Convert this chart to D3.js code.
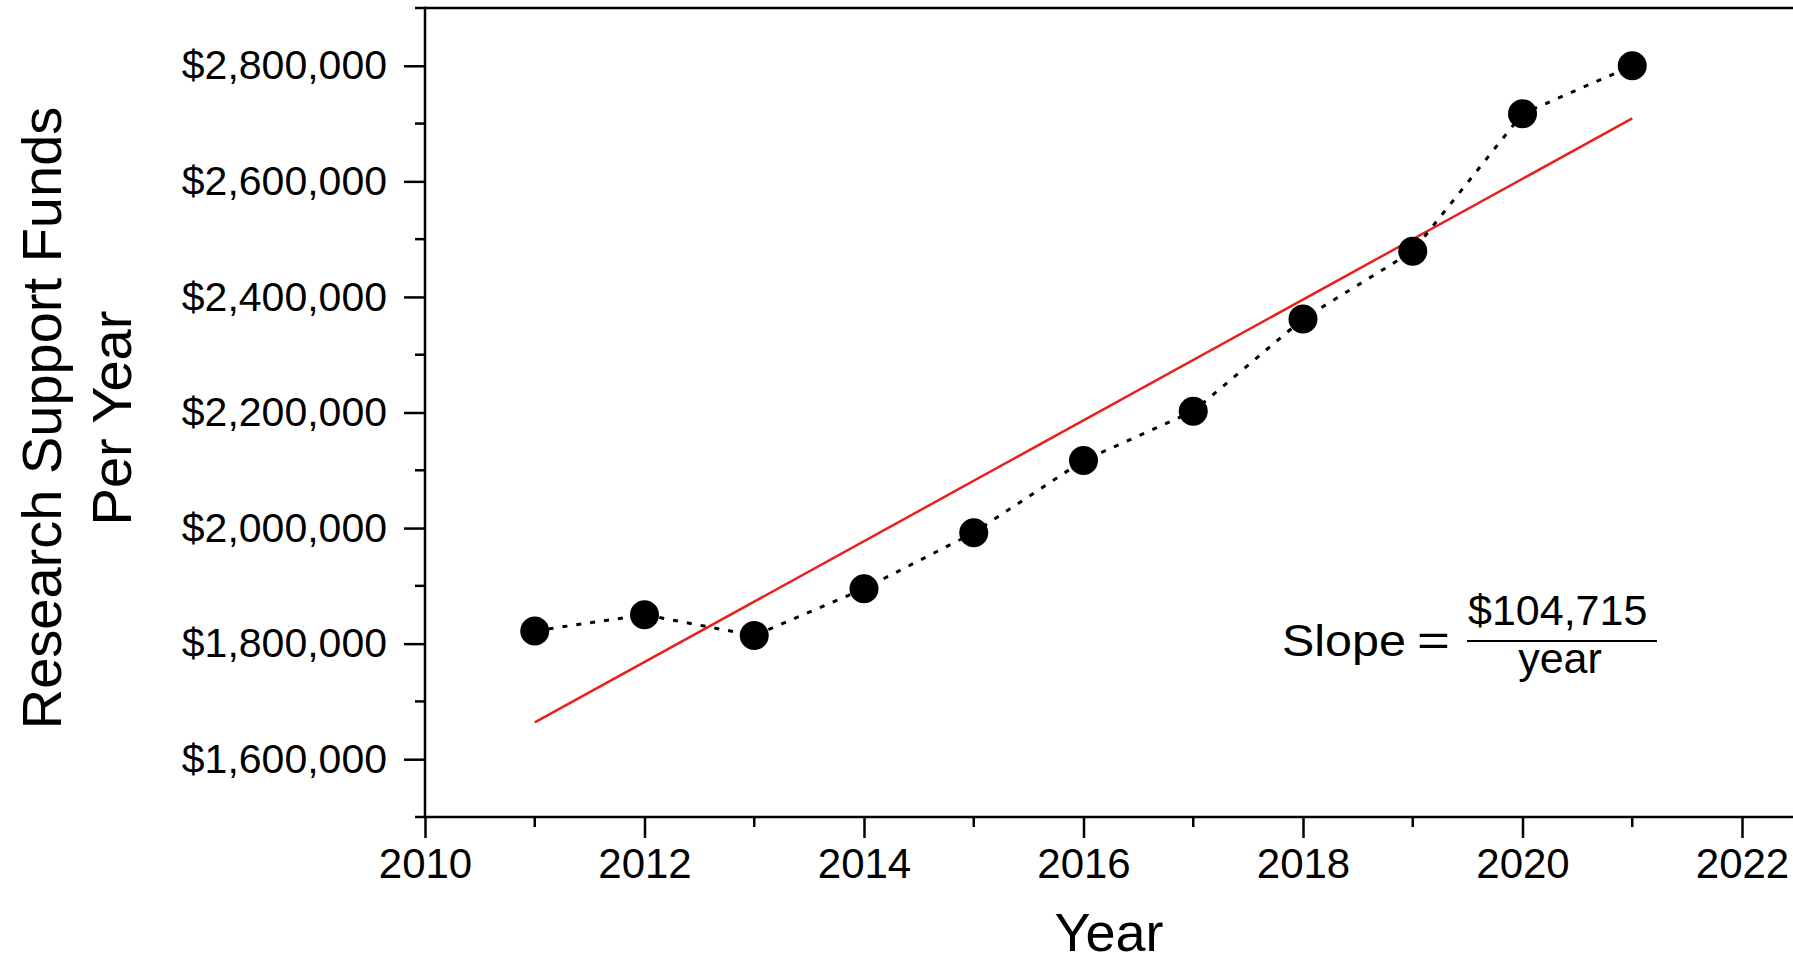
<!DOCTYPE html>
<html>
<head>
<meta charset="utf-8">
<script src="https://cdn.jsdelivr.net/npm/d3@7"></script>
<style>
  body { margin: 0; background: #fff; }
  text { font-family: "Liberation Sans", Arial, Helvetica, sans-serif; fill: #000; }
</style>
</head>
<body>
<svg id="chart"></svg>
<script>
const years = [2011, 2012, 2013, 2014, 2015, 2016, 2017, 2018, 2019, 2020, 2021];
const funds = [1822000, 1850000, 1814000, 1895000, 1992000, 2117000, 2202000, 2362000, 2479000, 2717000, 2800000];
const xTicks = [2010, 2012, 2014, 2016, 2018, 2020, 2022];
const yTicks = [1600000, 1800000, 2000000, 2200000, 2400000, 2600000, 2800000];
const slopeText = "$104,715";

const W = 1793, H = 963;
const plotLeft = 425, plotTop = 8, plotBottom = 817;

const svg = d3.select("#chart")
    .attr("width", W)
    .attr("height", H);

const x = d3.scaleLinear()
    .domain([2010, 2022])
    .range([plotLeft, 1742]);

const y = d3.scaleLinear()
    .domain([1500000, 2900000])
    .range([plotBottom, plotTop]);

const data = years.map((yr, i) => ({year: yr, value: funds[i]}));

// least squares fit
const mx = d3.mean(years), my = d3.mean(funds);
const slope = d3.sum(data, d => (d.year - mx) * (d.value - my)) / d3.sum(data, d => (d.year - mx) ** 2);
const fit = yr => my + slope * (yr - mx);

// frame
svg.append("line")
    .attr("x1", plotLeft).attr("x2", W).attr("y1", plotTop).attr("y2", plotTop)
    .attr("stroke", "#000").attr("stroke-width", 2.5);
svg.append("line")
    .attr("x1", plotLeft).attr("x2", W).attr("y1", plotBottom).attr("y2", plotBottom)
    .attr("stroke", "#000").attr("stroke-width", 2.5);
svg.append("line")
    .attr("x1", plotLeft).attr("x2", plotLeft).attr("y1", plotTop - 1.25).attr("y2", plotBottom)
    .attr("stroke", "#000").attr("stroke-width", 2.5);

// x axis
const xAxis = svg.append("g")
    .attr("transform", `translate(0,${plotBottom})`)
    .call(d3.axisBottom(x).tickValues(xTicks).tickFormat(d3.format("d")).tickSize(21).tickPadding(10));
xAxis.select(".domain").remove();
xAxis.selectAll(".tick line").attr("stroke-width", 2.5);
xAxis.selectAll(".tick text").attr("font-size", 42);
xAxis.attr("font-family", null);

svg.append("g").selectAll("line")
    .data(d3.range(2011, 2022, 2))
    .join("line")
    .attr("x1", d => x(d)).attr("x2", d => x(d))
    .attr("y1", plotBottom).attr("y2", plotBottom + 10)
    .attr("stroke", "#000").attr("stroke-width", 2.5);

// y axis
const yAxis = svg.append("g")
    .attr("transform", `translate(${plotLeft},0)`)
    .call(d3.axisLeft(y).tickValues(yTicks).tickFormat(d => "$" + d3.format(",")(d)).tickSize(21).tickPadding(17));
yAxis.select(".domain").remove();
yAxis.selectAll(".tick line").attr("stroke-width", 2.5);
yAxis.selectAll(".tick text").attr("font-size", 41);
yAxis.attr("font-family", null);

svg.append("g").selectAll("line")
    .data(d3.range(1500000, 2900001, 100000).filter(v => !yTicks.includes(v)))
    .join("line")
    .attr("x1", plotLeft - 10).attr("x2", plotLeft)
    .attr("y1", d => y(d)).attr("y2", d => y(d))
    .attr("stroke", "#000").attr("stroke-width", 2.5);

// axis titles
svg.append("text")
    .attr("x", (plotLeft + W) / 2).attr("y", 951)
    .attr("text-anchor", "middle")
    .attr("font-size", 54)
    .text("Year");

const yTitle = ["Research Support Funds", "Per Year"];
svg.selectAll(".ytitle")
    .data(yTitle)
    .join("text")
    .attr("class", "ytitle")
    .attr("transform", (d, i) => `translate(${61 + i * 70},418) rotate(-90)`)
    .attr("text-anchor", "middle")
    .attr("font-size", 56)
    .text(d => d);

// regression line
svg.append("line")
    .attr("x1", x(years[0])).attr("y1", y(fit(years[0])))
    .attr("x2", x(years[years.length - 1])).attr("y2", y(fit(years[years.length - 1])))
    .attr("stroke", "#e8211d").attr("stroke-width", 2.5);

// dotted connector
svg.append("path")
    .datum(data)
    .attr("fill", "none")
    .attr("stroke", "#000")
    .attr("stroke-width", 3)
    .attr("stroke-dasharray", "5,9")
    .attr("d", d3.line().x(d => x(d.year)).y(d => y(d.value)));

svg.append("g").selectAll("circle")
    .data(data)
    .join("circle")
    .attr("cx", d => x(d.year))
    .attr("cy", d => y(d.value))
    .attr("r", 14.5)
    .attr("fill", "#000");

// slope annotation
const ann = svg.append("g");
ann.append("text").attr("x", 1282).attr("y", 656).attr("font-size", 45)
    .attr("textLength", 124).attr("lengthAdjust", "spacingAndGlyphs").text("Slope");
ann.append("text").attr("x", 1417).attr("y", 656).attr("font-size", 44)
    .attr("textLength", 33).attr("lengthAdjust", "spacingAndGlyphs").text("=");
ann.append("text").attr("x", 1468).attr("y", 625).attr("font-size", 43).text(slopeText);
ann.append("line")
    .attr("x1", 1467).attr("x2", 1657).attr("y1", 641).attr("y2", 641)
    .attr("stroke", "#000").attr("stroke-width", 2);
ann.append("text").attr("x", 1560).attr("y", 673).attr("text-anchor", "middle").attr("font-size", 43).text("year");
</script>
</body>
</html>
